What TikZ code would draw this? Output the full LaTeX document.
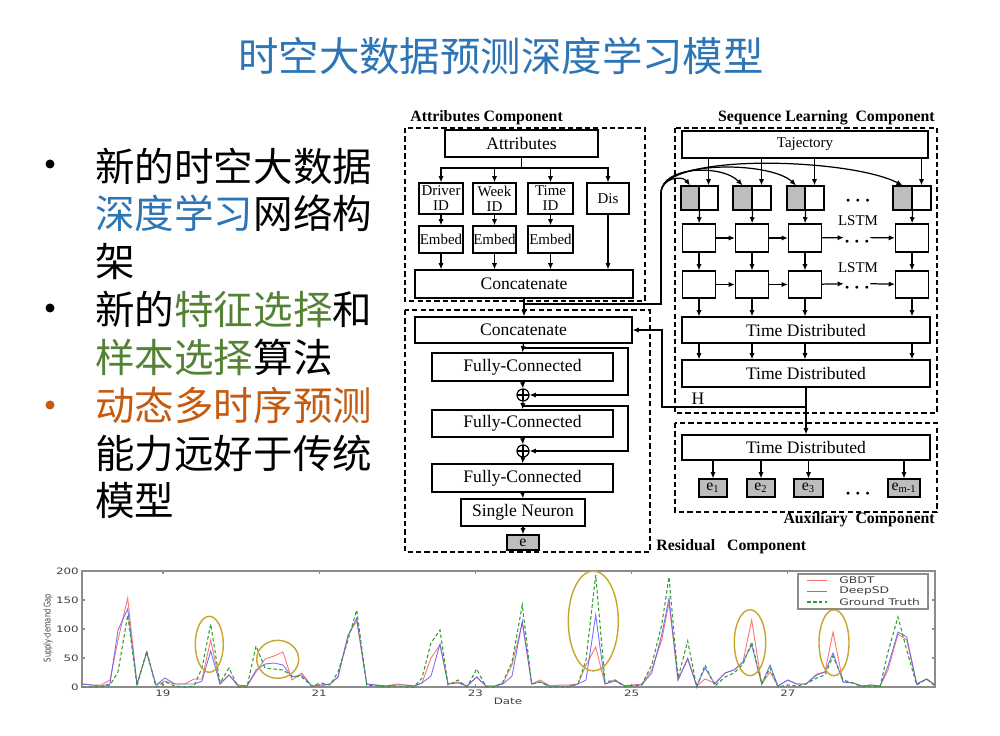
\documentclass[tikz,border=0pt]{standalone}
\usepackage{fontspec}
\usepackage{xcolor}
\usepackage{graphicx}
\usepackage{tikz}
\usetikzlibrary{arrows.meta}
\setmainfont{Liberation Serif}
\newfontfamily\cjk{Noto Sans CJK SC}
\newfontfamily\chartfont{DejaVu Sans}
\definecolor{titleblue}{HTML}{2E75B6}
\definecolor{selgreen}{HTML}{548235}
\definecolor{dynorange}{HTML}{C55A11}
\definecolor{cellgray}{HTML}{BDBDBD}
\definecolor{ringgold}{HTML}{C9A52C}
\definecolor{gbdtred}{HTML}{FF5A5A}
\definecolor{deepblue}{HTML}{5A5AFF}
\definecolor{truthgreen}{HTML}{2E9E2E}
\definecolor{axisgray}{HTML}{8C8C8C}
\def\pxu{0.2mm}
\newcommand{\wide}[1]{\scalebox{1.35}[1]{#1}}
\newcommand{\bigdots}{\smash{\raisebox{-0.48em}{\boldmath$\cdots$}}}
\tikzset{
  sz/.style 2 args={minimum width=#1*\pxu, minimum height=#2*\pxu},
  blk/.style={draw, line width=0.7pt, inner sep=0pt, font=\fontsize{10}{11}\selectfont},
  sblk/.style={blk, align=center, font=\fontsize{8.5}{8.5}\selectfont},
  gcell/.style={blk, fill=cellgray},
  outbox/.style={blk, fill=cellgray, font=\fontsize{9}{9}\selectfont},
  frame/.style={dash pattern=on 3pt off 1.8pt, line width=1pt},
  arr/.style={-{Latex[length=3.5pt,width=3pt]}, line width=0.7pt},
  wire/.style={line width=0.7pt},
  sumc/.style={circle, draw, line width=0.7pt, inner sep=0pt, minimum size=12*\pxu,
    path picture={\draw[line width=0.6pt] (path picture bounding box.north) -- (path picture bounding box.south)
      (path picture bounding box.west) -- (path picture bounding box.east);}},
  comp/.style={inner sep=0pt, font=\fontsize{9}{9}\selectfont\bfseries},
  lab/.style={inner sep=0pt, font=\fontsize{8.5}{9}\selectfont},
  dotlab/.style={inner sep=0pt, font=\fontsize{11}{11}\selectfont},
  tit/.style={inner sep=0pt, text=titleblue, font=\cjk\fontsize{23}{25}\selectfont},
  line/.style={inner sep=0pt, anchor=west, font=\cjk\fontsize{22.5}{24}\selectfont},
  dot/.style={circle, fill=#1, inner sep=0pt, minimum size=9*\pxu},
  tick/.style={inner sep=0pt, font=\chartfont\fontsize{5}{6}\selectfont, text=black!75},
  axisline/.style={draw=axisgray, line width=0.7pt},
  gbdt/.style={gbdtred, line width=0.5pt, opacity=0.85},
  deepsd/.style={deepblue, line width=0.5pt, opacity=0.85},
  truth/.style={truthgreen, dash pattern=on 2pt off 1.4pt, line width=0.6pt},
  ring/.style={draw=ringgold, line width=0.8pt}
}
\begin{document}
\begin{tikzpicture}[x=0.2mm, y=-0.2mm]
  \useasboundingbox (0,0) rectangle (1000,736);

  % title and bullet text
  \node[tit] (title) at (501,56) {时空大数据预测深度学习模型};

  \node[dot=black] (b1) at (50,164) {};
  \node[dot=black] (b2) at (50,308) {};
  \node[dot=dynorange] (b3) at (50,405) {};
  \node[line] (ln1) at (95,166) {新的时空大数据};
  \node[line] (ln2) at (95,213) {\textcolor{titleblue}{深度学习}网络构};
  \node[line] (ln3) at (95,262) {架};
  \node[line] (ln4) at (95,309) {新的\textcolor{selgreen}{特征选择}和};
  \node[line] (ln5) at (95,357) {\textcolor{selgreen}{样本选择}算法};
  \node[line, text=dynorange] (ln6) at (95,405) {动态多时序预测};
  \node[line] (ln7) at (95,453) {能力远好于传统};
  \node[line] (ln8) at (95,500) {模型};

  % Attributes component
  \draw[frame] (405,128) rectangle (645,301);
  \node[comp, anchor=west] (attrcap) at (410,118) {Attributes Component};
  \node[blk, sz={153}{27}] (attr) at (521.5,143.5) {Attributes};
  \coordinate (split) at (521.5,168);
  \node[sblk, sz={44}{31}] (drv) at (441,198.5) {Driver\\ID};
  \node[sblk, sz={43}{31}] (wk) at (494.5,198.5) {Week\\ID};
  \node[sblk, sz={45}{31}] (tim) at (550.5,198.5) {Time\\ID};
  \node[sblk, sz={42}{31}] (dis) at (608,198.5) {Dis};
  \node[sblk, sz={44}{27}] (emb1) at (441,239.5) {Embed};
  \node[sblk, sz={43}{27}] (emb2) at (494.5,239.5) {Embed};
  \node[sblk, sz={45}{27}] (emb3) at (550.5,239.5) {Embed};
  \node[blk, sz={218}{28}] (cat1) at (524,284) {Concatenate};

  \draw[wire] (attr.south) -- (split);
  \draw[arr] (split) -| (drv.north);
  \draw[arr] (split) -| (wk.north);
  \draw[arr] (split) -| (tim.north);
  \draw[arr] (split) -| (dis.north);
  \draw[arr] (drv.south) -- (emb1.north);
  \draw[arr] (wk.south) -- (emb2.north);
  \draw[arr] (tim.south) -- (emb3.north);
  \draw[arr] (emb1.south) -- (emb1.south |- cat1.north);
  \draw[arr] (emb2.south) -- (emb2.south |- cat1.north);
  \draw[arr] (emb3.south) -- (emb3.south |- cat1.north);
  \draw[arr] (dis.south) -- (dis.south |- cat1.north);

  % Sequence learning component
  \draw[frame] (675,128) rectangle (937,413);
  \node[comp, anchor=east] (seqcap) at (935,118) {Sequence Learning\ \ Component};
  \node[blk, sz={246}{27}, font=\fontsize{8.5}{9}\selectfont] (traj) at (805,144.5) {Tajectory};

  \node[gcell, sz={18}{24}] (g1) at (690,198) {};
  \node[blk, sz={19}{24}] (w1) at (708.5,198) {};
  \node[gcell, sz={19}{24}] (g2) at (742.5,198) {};
  \node[blk, sz={19}{24}] (w2) at (761.5,198) {};
  \node[gcell, sz={18}{24}] (g3) at (796,198) {};
  \node[blk, sz={19}{24}] (w3) at (814.5,198) {};
  \node[gcell, sz={19}{24}] (g4) at (902.5,198) {};
  \node[blk, sz={19}{24}] (w4) at (921.5,198) {};
  \node[dotlab] (dots0) at (858,196) {\bigdots};

  \draw[arr] (traj.south -| w1) -- (w1.north);
  \draw[arr] (traj.south -| w2) -- (w2.north);
  \draw[arr] (traj.south -| w3) -- (w3.north);
  \draw[arr] (traj.south -| w4) -- (w4.north);

  % LSTM rows
  \node[blk, sz={33}{28}] (la1) at (699,238) {};
  \node[blk, sz={33}{28}] (la2) at (752,238) {};
  \node[blk, sz={33}{28}] (la3) at (805,238) {};
  \node[blk, sz={33}{28}] (la4) at (912,238) {};
  \node[dotlab] (dotsA) at (857,237.5) {\bigdots};
  \node[lab] (lstmA) at (858,221) {LSTM};
  \node[blk, sz={33}{27}] (lb1) at (699,284.5) {};
  \node[blk, sz={33}{27}] (lb2) at (752,284.5) {};
  \node[blk, sz={33}{27}] (lb3) at (805,284.5) {};
  \node[blk, sz={33}{27}] (lb4) at (912,284.5) {};
  \node[dotlab] (dotsB) at (857,283.5) {\bigdots};
  \node[lab] (lstmB) at (858,268) {LSTM};

  \draw[arr] (g1.south east) -- (la1.north);
  \draw[arr] (g2.south east) -- (la2.north);
  \draw[arr] (g3.south east) -- (la3.north);
  \draw[arr] (g4.south east) -- (la4.north);
  \draw[arr] (la1) -- (la2);
  \draw[arr] (la2) -- (la3);
  \draw[arr] (la3) -- (dotsA);
  \draw[arr] (dotsA) -- (la4);
  \draw[arr] (la1) -- (lb1);
  \draw[arr] (la2) -- (lb2);
  \draw[arr] (la3) -- (lb3);
  \draw[arr] (la4) -- (lb4);
  \draw[arr] (lb1) -- (lb2);
  \draw[arr] (lb2) -- (lb3);
  \draw[arr] (lb3) -- (dotsB);
  \draw[arr] (dotsB) -- (lb4);

  \node[blk, sz={248}{26}] (td1) at (806,330) {Time Distributed};
  \node[blk, sz={248}{27}] (td2) at (806,373.5) {Time Distributed};
  \draw[arr] (lb1.south) -- (lb1.south |- td1.north);
  \draw[arr] (lb2.south) -- (lb2.south |- td1.north);
  \draw[arr] (lb3.south) -- (lb3.south |- td1.north);
  \draw[arr] (lb4.south) -- (lb4.south |- td1.north);
  \draw[arr] (td1.south -| lb1) -- (td2.north -| lb1);
  \draw[arr] (td1.south -| lb2) -- (td2.north -| lb2);
  \draw[arr] (td1.south -| lb3) -- (td2.north -| lb3);
  \draw[arr] (td1.south -| lb4) -- (td2.north -| lb4);

  % Auxiliary component
  \draw[frame] (675,423) rectangle (937,512);
  \node[comp, anchor=east] (auxcap) at (935,520) {Auxiliary\ \ Component};
  \node[blk, sz={248}{25}] (td3) at (806,447.5) {Time Distributed};
  \node[outbox, sz={28}{18}] (e1) at (713,488) {e\textsubscript{1}};
  \node[outbox, sz={28}{18}] (e2) at (761,488) {e\textsubscript{2}};
  \node[outbox, sz={29}{18}] (e3) at (808.5,488) {e\textsubscript{3}};
  \node[outbox, sz={32}{18}] (em) at (904,488) {e\textsubscript{m-1}};
  \node[dotlab] (dotsC) at (858,489) {\bigdots};
  \draw[arr] (td3.south -| e1) -- (e1.north);
  \draw[arr] (td3.south -| e2) -- (e2.north);
  \draw[arr] (td3.south -| e3) -- (e3.north);
  \draw[arr] (td3.south -| em) -- (em.north);

  % Residual component
  \draw[frame] (405,310) rectangle (650,552);
  \node[comp, anchor=west] (rescap) at (656,547) {Residual\ \ \ Component};
  \node[blk, sz={217}{26}] (cat2) at (523.5,330) {Concatenate};
  \node[blk, sz={181}{28}] (fc1) at (522.5,367) {Fully-Connected};
  \node[sumc] (p1) at (523,395) {};
  \node[blk, sz={181}{27}] (fc2) at (522.5,423.5) {Fully-Connected};
  \node[sumc] (p2) at (523,451) {};
  \node[blk, sz={181}{28}] (fc3) at (522.5,478) {Fully-Connected};
  \node[blk, sz={124}{27}] (neu) at (523,512.5) {Single Neuron};
  \node[outbox, sz={32}{15}] (eo) at (523,542.5) {e};

  \draw[arr] (cat2.south) -- (fc1.north);
  \draw[arr] (fc1.south) -- (p1.north);
  \draw[arr] (p1.south) -- (fc2.north);
  \draw[arr] (fc2.south) -- (p2.north);
  \draw[arr] (p2.south) -- (fc3.north);
  \draw[arr] (fc3.south) -- (neu.north);
  \draw[arr] (neu.south) -- (eo.north);
  \coordinate (s1) at (523,348);
  \coordinate (s1r) at (628,348);
  \coordinate (s2) at (523,406);
  \coordinate (s2r) at (628,406);
  \draw[arr] (s1) -- (s1r) |- (p1.east);
  \draw[arr] (s2) -- (s2r) |- (p2.east);

  % links between components
  \coordinate (jn) at (524,304);
  \coordinate (jr) at (661,304);
  \coordinate (jt) at (661,193);
  \draw[arr] (cat1.south) -- (cat1.south |- cat2.north);
  \draw[wire] (jn) -- (jr) -- (jt);
  \draw[arr] (jt) .. controls (661,178) and (682,175) .. (g1.north);
  \draw[arr] (jt) .. controls (661,166) and (722,164) .. (g2.north);
  \draw[arr] (jt) .. controls (661,160) and (770,161) .. (g3.north);
  \draw[arr] (jt) .. controls (661,152) and (850,158) .. (g4.north);

  \coordinate (hj) at (806,407);
  \coordinate (hl) at (662,407);
  \coordinate (hu) at (662,330);
  \draw[wire] (td2.south) -- (hj);
  \draw[arr] (hj) -- (td3.north);
  \draw[arr] (hj) -- (hl) -- (hu) -- (cat2.east);
  \node[lab, font=\fontsize{10}{10}\selectfont] (hlab) at (698,399) {H};

  % chart: axes
  \draw[axisline] (82,571) rectangle (935,687);
  \draw[axisline] (163,687) -- (163,684) (319.2,687) -- (319.2,684) (475.4,687) -- (475.4,684)
    (631.6,687) -- (631.6,684) (787.8,687) -- (787.8,684);
  \draw[axisline] (163,571) -- (163,574) (319.2,571) -- (319.2,574) (475.4,571) -- (475.4,574)
    (631.6,571) -- (631.6,574) (787.8,571) -- (787.8,574);
  \draw[axisline] (82,600) -- (85,600) (82,629) -- (85,629) (82,658) -- (85,658);
  \draw[axisline] (935,600) -- (932,600) (935,629) -- (932,629) (935,658) -- (932,658);
  \node[tick, anchor=east] (y200) at (79,571) {\wide{200}};
  \node[tick, anchor=east] (y150) at (79,600) {\wide{150}};
  \node[tick, anchor=east] (y100) at (79,629) {\wide{100}};
  \node[tick, anchor=east] (y50) at (79,658) {\wide{50}};
  \node[tick, anchor=east] (y0) at (79,687) {\wide{0}};
  \node[tick] (x19) at (163,693) {\wide{19}};
  \node[tick] (x21) at (319.2,693) {\wide{21}};
  \node[tick] (x23) at (475.4,693) {\wide{23}};
  \node[tick] (x25) at (631.6,693) {\wide{25}};
  \node[tick] (x27) at (787.8,693) {\wide{27}};
  \node[tick] (xlab) at (508,701) {\wide{Date}};
  \node[tick, rotate=90, font=\chartfont\fontsize{5.3}{6}\selectfont] (ylab) at (48,628) {\scalebox{0.72}[1]{Supply-demand Gap}};

  % chart: series
  \draw[gbdt] plot coordinates {(82.7,684) (92,685) (101,685) (110,680) (118,640) (127.7,598) (137,684) (146.7,652) (156,685) (165,681) (175,684) (185,684) (194,679) (202,679) (210.7,640) (220,684) (229,675) (238,686) (247,686) (256,672) (265,659) (274,656) (283,652) (292,680) (301.7,673) (311.7,686) (321,686) (330,684) (338,677) (348,635) (356.7,621) (366.7,684) (376,685) (386,686) (396,684) (405,685) (414,686) (422,683) (431,658) (440,645) (448,684) (458,682) (467,686) (476.7,677) (486,686) (495,686) (503,683) (512,665) (522.3,623) (531.7,684) (540,680) (550,686) (560,685) (569,685) (578,684) (586,665) (595.7,647) (605,684) (615,680) (625,686) (633,685) (641.7,684) (651.7,670) (661.7,640) (669,603) (678,680) (687.7,658) (696.7,686) (705,679) (715,683) (725,673) (734,670) (743,662) (751.7,620) (761.7,684) (770,672) (778,686) (787.7,680) (796.7,684) (806,684) (816.7,674) (825,672) (833,632) (843,682) (853,683) (862,686) (871,685) (880,686) (888,670) (898,634) (906.7,640) (916.7,684) (926.7,679) (935,685)};
  \draw[deepsd] plot coordinates {(82.7,684) (92,685) (101,686) (110,684) (118,630) (127.7,609) (137,684) (146.7,653) (156,685) (165,678) (175,684) (185,684) (194,684) (202,681) (210.7,651) (220,684) (229,675) (238,685) (247,686) (256,670) (265,664) (274,663) (283,665) (292,677) (301.7,675) (311.7,686) (321,685) (330,684) (338,677) (348,636) (356.7,618) (366.7,684) (376,685) (386,686) (396,685) (405,685) (414,686) (422,683) (431,676) (440,644) (448,684) (458,683) (467,686) (476.7,677) (486,686) (495,686) (503,684) (512,676) (522.3,621) (531.7,684) (540,682) (550,686) (560,686) (569,686) (578,684) (586,680) (595.7,615) (605,684) (615,681) (625,686) (633,685) (641.7,685) (651.7,673) (661.7,635) (669,598) (678,680) (687.7,659) (696.7,686) (705,668) (715,684) (725,673) (734,670) (743,662) (751.7,645) (761.7,684) (770,665) (778,686) (787.7,680) (796.7,684) (806,684) (816.7,675) (825,672) (833,653) (843,682) (853,683) (862,686) (871,685) (880,686) (888,666) (898,632) (906.7,637) (916.7,684) (926.7,679) (935,685)};
  \draw[truth] plot coordinates {(82.7,687) (92,687) (101,687) (110,685) (118,672) (127.7,615) (137,686) (146.7,651) (156,687) (165,682) (175,686) (185,687) (194,686) (202,668) (210.7,624) (220,683) (229,668) (238,687) (247,687) (256,646) (265,668) (274,669) (283,670) (292,676) (301.7,677) (311.7,686) (321,683) (330,685) (338,672) (348,640) (356.7,610) (366.7,685) (376,686) (386,687) (396,686) (405,687) (414,687) (422,678) (431,643) (440,630) (448,685) (458,680) (467,687) (476.7,669) (486,687) (495,687) (503,682) (512,662) (522.3,605) (531.7,684) (540,682) (550,687) (560,687) (569,687) (578,684) (586,660) (595.7,575) (605,682) (615,680) (625,687) (633,686) (641.7,685) (651.7,665) (661.7,625) (669,577) (678,678) (687.7,641) (696.7,687) (705,665) (715,686) (725,677) (734,673) (743,664) (751.7,642) (761.7,684) (770,668) (778,687) (787.7,685) (796.7,686) (806,684) (816.7,678) (825,675) (833,656) (843,680) (853,683) (862,687) (871,686) (880,687) (888,652) (898,617) (906.7,650) (916.7,685) (926.7,679) (935,686)};

  % highlighted peaks
  \draw[ring] (209.3,644.3) ellipse [x radius=14, y radius=28];
  \draw[ring] (277.7,659.3) ellipse [x radius=21, y radius=19];
  \draw[ring] (593.3,621) ellipse [x radius=25, y radius=50];
  \draw[ring] (750,642.7) ellipse [x radius=15.7, y radius=33];
  \draw[ring] (834,642.7) ellipse [x radius=15, y radius=33];

  % legend
  \draw[axisline, fill=white] (798,574) rectangle (928,609);
  \coordinate (lg1) at (807,580);
  \coordinate (lg1e) at (827,580);
  \coordinate (lg2) at (807,591);
  \coordinate (lg2e) at (827,591);
  \coordinate (lg3) at (807,602);
  \coordinate (lg3e) at (827,602);
  \draw[gbdt] (lg1) -- (lg1e);
  \draw[deepsd] (lg2) -- (lg2e);
  \draw[truth] (lg3) -- (lg3e);
  \node[tick, anchor=west, font=\chartfont\fontsize{5.2}{6}\selectfont] (lgbdt) at (839,580) {\wide{GBDT}};
  \node[tick, anchor=west, font=\chartfont\fontsize{5.2}{6}\selectfont] (ldeep) at (839,591) {\wide{DeepSD}};
  \node[tick, anchor=west, font=\chartfont\fontsize{5.2}{6}\selectfont] (ltruth) at (839,602) {\wide{Ground Truth}};
\end{tikzpicture}
\end{document}
